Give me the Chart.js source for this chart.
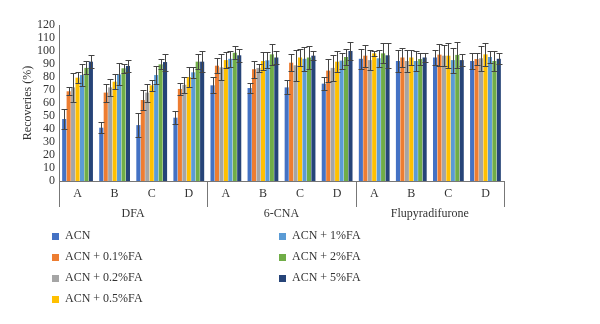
<!DOCTYPE html>
<html>
<head>
<meta charset="utf-8">
<script src="https://cdn.jsdelivr.net/npm/chart.js@4"></script>
<style>
  body { margin: 0; background: #fff; }
  #wrap { position: relative; width: 600px; height: 324px; }
  #legend { position: absolute; left: 0; top: 0; width: 600px; height: 324px; pointer-events: none; }
  .item { position: absolute; font: 12px "Liberation Serif", serif; color: #333; white-space: nowrap; }
  .sw { position: absolute; width: 7px; height: 7px; }
</style>
</head>
<body>
<div id="wrap">
  <canvas id="chart" width="600" height="324"></canvas>
  <div id="legend"></div>
</div>
<script>
const categories = ["A", "B", "C", "D", "A", "B", "C", "D", "A", "B", "C", "D"];
const groups = ["DFA", "6-CNA", "Flupyradifurone"];
const yTicks = [0, 10, 20, 30, 40, 50, 60, 70, 80, 90, 100, 110, 120];

const seriesNames = ["ACN", "ACN + 0.1%FA", "ACN + 0.2%FA", "ACN + 0.5%FA", "ACN + 1%FA", "ACN + 2%FA", "ACN + 5%FA"];
const colors = ["#4472C4", "#ED7D31", "#A5A5A5", "#FFC000", "#5B9BD5", "#70AD47", "#264478"];

// recoveries (%), order: DFA A-D, 6-CNA A-D, Flupyradifurone A-D
const acn   = [47.7, 41, 43, 48.7,   73.6, 71.5, 72, 74.9,   94, 92.3, 95, 92.3];
const fa01  = [69, 68, 62.3, 70.8,   88.7, 86, 91, 84.9,     96.4, 95, 97.2, 93.8];
const fa02  = [72, 72, 68, 74,       87.4, 87, 89, 87,       93, 92.3, 96.4, 94.4];
const fa05  = [79.5, 76.4, 73.6, 80, 93, 92.3, 95, 91.8,     98.2, 95, 96.4, 97.4];
const fa1   = [81.5, 82, 81.5, 83.6, 94, 92.8, 94, 92.6,     94.4, 92.3, 93, 95.4];
const fa2   = [87, 86.7, 89.7, 91.8, 98.7, 97.4, 95, 95.4,   98.2, 93.8, 97, 92.3];
const fa5   = [91.8, 88.5, 91.5, 91.8, 96.7, 95, 96.4, 100,  96.7, 95, 93, 94];

// standard deviations
const acnErr  = [7.7, 4.4, 9, 5.1,   6.1, 4.1, 5.4, 4.8,   7.8, 8.5, 5.8, 5.9];
const fa01Err = [3, 7, 7.7, 4.8,     5.7, 6.6, 6.4, 9.1,   8.6, 7.6, 8.4, 4.4];
const fa02Err = [11, 6.7, 7, 6,      10, 3, 12, 9.7,       7.8, 8.5, 8, 9.4];
const fa05Err = [4.1, 5.6, 4.4, 8,   6, 6.7, 6.8, 8.2,     2, 5.5, 9.6, 9];
const fa1Err  = [8.2, 8.5, 7, 4.4,   6, 6.2, 9, 6.1,       6.4, 7.7, 9.6, 4.6];
const fa2Err  = [5, 3.3, 3.9, 5.9,   5.1, 8.2, 8.8, 6.4,   7.8, 4.9, 10, 7.7];
const fa5Err  = [4.9, 4.5, 6.5, 8.2, 5.1, 5, 3.6, 7,       9.7, 3.2, 4.4, 4.2];

const values = [acn, fa01, fa02, fa05, fa1, fa2, fa5];
const errors = [acnErr, fa01Err, fa02Err, fa05Err, fa1Err, fa2Err, fa5Err];

const FONT = "'Liberation Serif', serif";
const TXT = "#333";

// error bars
const errorBars = {
    id: "errorBars",
    afterDatasetsDraw(chart) {
        const ctx = chart.ctx;
        const y = chart.scales.y;
        ctx.save();
        ctx.strokeStyle = "#444";
        ctx.lineWidth = 1;
        chart.data.datasets.forEach((ds, i) => {
            const meta = chart.getDatasetMeta(i);
            meta.data.forEach((bar, j) => {
                const v = ds.data[j], e = errors[i][j];
                const top = Math.round(y.getPixelForValue(v + e)) + 0.5;
                const bot = Math.round(y.getPixelForValue(v - e)) + 0.5;
                const x = Math.round(bar.x) + 0.5;
                ctx.beginPath();
                ctx.moveTo(x, top); ctx.lineTo(x, bot);
                ctx.moveTo(x - 3, top); ctx.lineTo(x + 3, top);
                ctx.moveTo(x - 3, bot); ctx.lineTo(x + 3, bot);
                ctx.stroke();
            });
        });
        ctx.restore();
    }
};

// group separators and group names under the axis
const groupAxis = {
    id: "groupAxis",
    afterDraw(chart) {
        const ctx = chart.ctx;
        const xs = chart.scales.x;
        const a = chart.chartArea;
        const per = categories.length / groups.length;
        const edges = [a.left];
        for (let g = 1; g < groups.length; g++) {
            edges.push((xs.getPixelForValue(g * per - 1) + xs.getPixelForValue(g * per)) / 2);
        }
        edges.push(a.right);
        ctx.save();
        ctx.strokeStyle = "#777";
        ctx.lineWidth = 1;
        edges.forEach(x => {
            const px = Math.round(x) + 0.5;
            ctx.beginPath();
            ctx.moveTo(px, a.bottom);
            ctx.lineTo(px, a.bottom + 26);
            ctx.stroke();
        });
        ctx.fillStyle = TXT;
        ctx.font = "12px " + FONT;
        ctx.textAlign = "center";
        ctx.textBaseline = "middle";
        groups.forEach((g, i) => {
            ctx.fillText(g, (edges[i] + edges[i + 1]) / 2, a.bottom + 33);
        });
        ctx.restore();
    }
};

new Chart(document.getElementById("chart"), {
    type: "bar",
    data: {
        labels: categories,
        datasets: values.map((v, i) => ({
            label: seriesNames[i],
            data: v,
            backgroundColor: colors[i],
            categoryPercentage: 0.84,
            barPercentage: 0.92
        }))
    },
    options: {
        responsive: false,
        animation: false,
        layout: { padding: { left: 21, right: 96, top: 25, bottom: 103 } },
        plugins: { legend: { display: false }, tooltip: { enabled: false } },
        scales: {
            x: {
                grid: { display: false, drawTicks: false },
                border: { color: "#777" },
                ticks: { color: TXT, font: { family: FONT, size: 12 }, padding: 6, maxRotation: 0, autoSkip: false },
                afterFit: s => { s.height = 40; }
            },
            y: {
                min: 0, max: 120,
                afterBuildTicks: s => { s.ticks = yTicks.map(v => ({ value: v })); },
                grid: { display: false, drawTicks: false },
                border: { color: "#777" },
                ticks: { color: TXT, font: { family: FONT, size: 12 }, padding: 4, autoSkip: false },
                title: { display: true, text: "Recoveries (%)", color: TXT, font: { family: FONT, size: 12 }, padding: 0 },
                afterFit: s => { s.width = 38; }
            }
        }
    },
    plugins: [errorBars, groupAxis]
});

// legend: 4 items in the left column, the rest in the right column
const legend = document.getElementById("legend");
seriesNames.forEach((name, i) => {
    const col = i < 4 ? 0 : 1;
    const row = i < 4 ? i : i - 4;
    const left = col === 0 ? 52 : 279;
    const cy = 236 + row * 21;
    const sw = document.createElement("div");
    sw.className = "sw";
    sw.style.left = left + "px";
    sw.style.top = (cy - 3) + "px";
    sw.style.background = colors[i];
    legend.appendChild(sw);
    const t = document.createElement("div");
    t.className = "item";
    t.style.left = (left + 13) + "px";
    t.style.top = (cy - 8) + "px";
    t.textContent = name;
    legend.appendChild(t);
});
</script>
</body>
</html>
